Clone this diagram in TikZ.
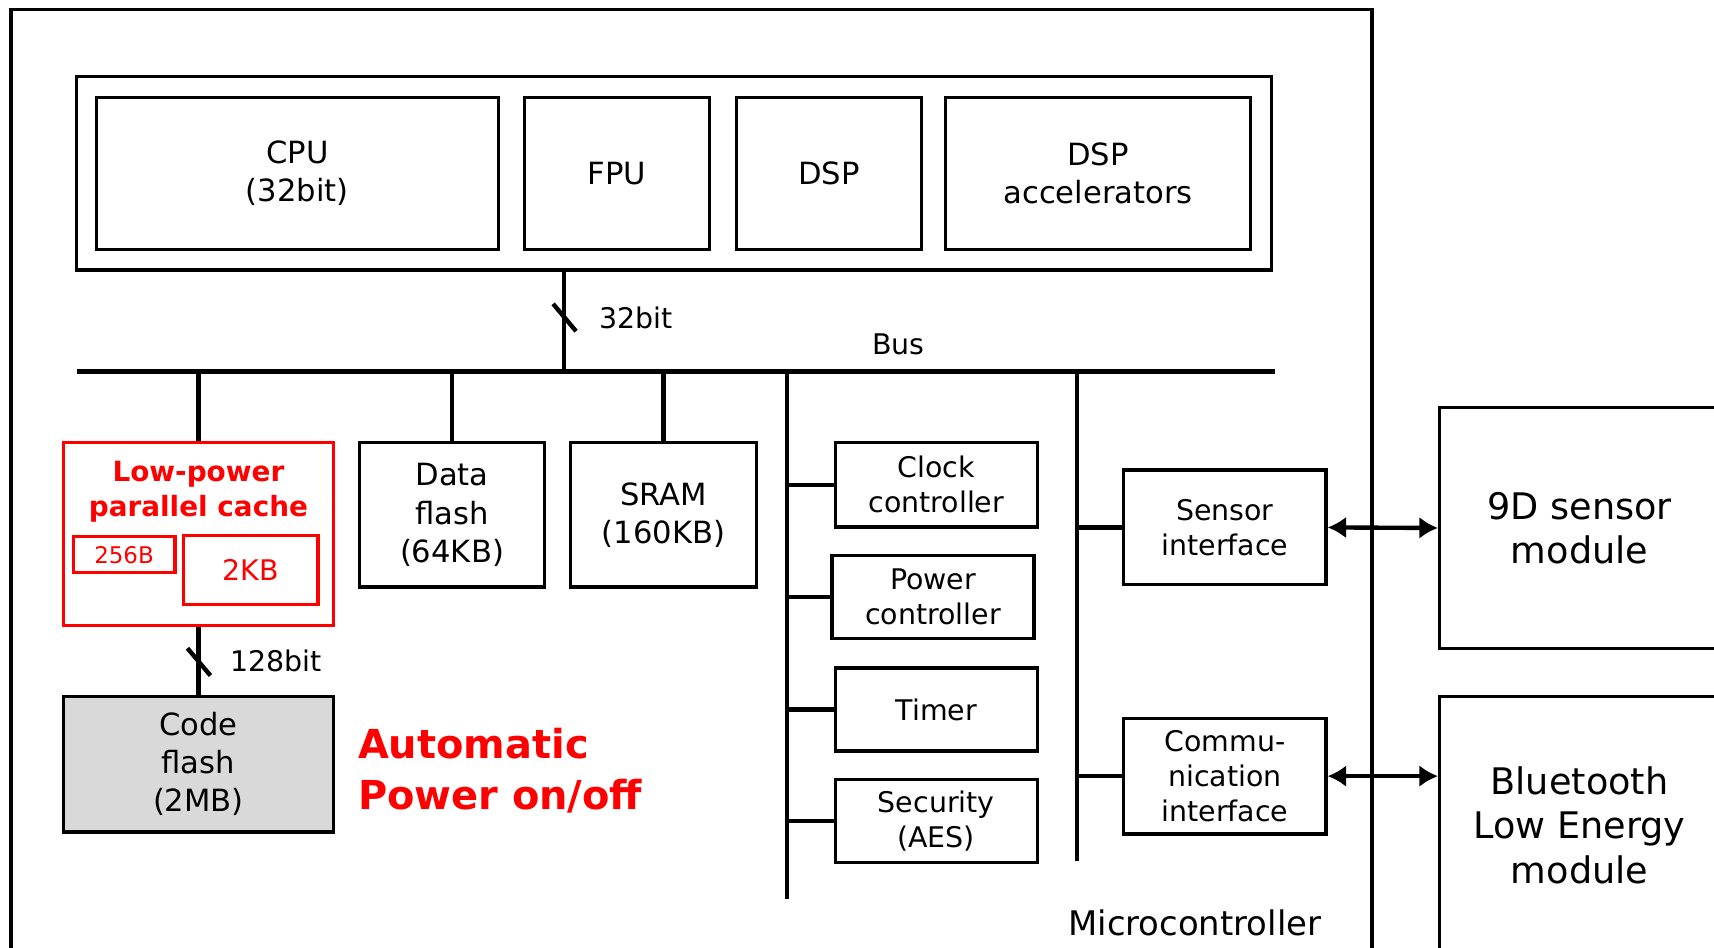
\documentclass[tikz,border=0pt]{standalone}
\usepackage{fontspec}
\setmainfont{DejaVu Sans}
\usetikzlibrary{arrows.meta,calc}
\definecolor{hred}{RGB}{255,0,0}
\definecolor{cfgray}{RGB}{217,217,217}
\tikzset{
  blk/.style={draw=black, line width=3pt, inner sep=0pt, align=center},
  cachebox/.style={draw=hred, line width=3pt, inner sep=0pt, align=center, text=hred},
  wire/.style={line width=4pt},
  buswire/.style={line width=4.5pt},
  frame/.style={line width=3pt},
  dbl/.style={line width=4pt, {Latex[length=17pt,width=20pt]}-{Latex[length=17pt,width=20pt]}},
  fL/.style={font=\fontsize{28}{35}\selectfont},
  fM/.style={font=\fontsize{26}{32}\selectfont},
  fXL/.style={font=\fontsize{33.5}{40.5}\selectfont},
}
\begin{document}
\begin{tikzpicture}[x=1pt,y=-1pt]
\useasboundingbox (0,0) rectangle (1568,867);
\clip (0,0) rectangle (1568,867);
% outer microcontroller frame
\draw[frame] (10,900) -- (10,9) -- (1255,9) -- (1255,900);
\node[fM, font=\fontsize{31}{36}\selectfont] (mcu) at (1093,844) {Microcontroller};

% top processor block
\node[blk, minimum width=1093pt, minimum height=177pt] (top) at (616.5,158.5) {};
\node[blk, fL, minimum width=368pt, minimum height=139pt] (cpu) at (272,158.5) {CPU\\(32bit)};
\node[blk, fL, minimum width=169pt, minimum height=139pt] (fpu) at (564.5,158.5) {FPU};
\node[blk, fL, minimum width=169pt, minimum height=139pt] (dsp) at (758.5,158.5) {DSP};
\node[blk, fL, minimum width=279pt, minimum height=139pt] (dspacc) at (1004.5,158.5) {DSP\\accelerators};

% bus
\coordinate (busL) at (70,340);
\coordinate (busR) at (1166,340);
\coordinate (b1) at (516,340);
\draw[buswire] (busL) -- (busR);
\draw[wire] (top.south -| b1) -- (b1);
\coordinate (s1) at (516,290);
\draw[line width=4pt] ($(s1)+(-10,-12)$) -- ($(s1)+(11,13)$);
\node[fM, anchor=west] (l32) at (545,291) {32bit};
\node[fM] (buslbl) at (822,315) {Bus};

% cache
\node[cachebox, minimum width=247pt, minimum height=167pt] (cache) at (181.5,488.5) {};
\node[text=hred, align=center, font=\bfseries\fontsize{25.5}{32}\selectfont] (ctitle) at (181.5,450) {Low-power\\parallel cache};
\node[cachebox, minimum width=93pt, minimum height=33pt, font=\fontsize{21}{24}\selectfont] (c256) at (113.5,507.5) {256B};
\node[cachebox, minimum width=123pt, minimum height=63pt, font=\fontsize{26}{30}\selectfont] (c2k) at (229.5,521.5) {2KB};

% code flash
\node[blk, fL, fill=cfgray, minimum width=247pt, minimum height=124pt] (code) at (181.5,699) {Code\\flash\\(2MB)};
\draw[wire] (cache.south) -- (code.north);
\coordinate (s2) at (181.5,605);
\draw[line width=4pt] ($(s2)+(-10,-12)$) -- ($(s2)+(11,13)$);
\node[fM, anchor=west] (l128) at (207,605) {128bit};
\node[text=hred, align=left, anchor=west, font=\bfseries\fontsize{36.5}{46}\selectfont] (auto) at (324,705) {Automatic\\Power on/off};

% memories
\node[blk, fL, minimum width=169pt, minimum height=132pt] (dflash) at (413.5,471) {Data\\flash\\(64KB)};
\node[blk, fL, minimum width=170pt, minimum height=132pt] (sram) at (607,471) {SRAM\\(160KB)};

\draw[wire] (cache.north |- busL) -- (cache.north);
\draw[wire] (dflash.north |- busL) -- (dflash.north);
\draw[wire] (sram.north |- busL) -- (sram.north);

% peripheral column 1
\coordinate (v1t) at (720,340);
\coordinate (v1b) at (720,822);
\draw[wire] (v1t) -- (v1b);
\node[blk, fM, minimum width=185pt, minimum height=77pt] (clk) at (856.5,443.5) {Clock\\controller};
\node[blk, fM, minimum width=185pt, minimum height=76pt] (pwr) at (853.5,546) {Power\\controller};
\node[blk, fM, minimum width=185pt, minimum height=76pt] (tmr) at (856.5,649) {Timer};
\node[blk, fM, minimum width=185pt, minimum height=76pt] (sec) at (856.5,751) {Security\\(AES)};
\draw[wire] (clk.west -| v1t) -- (clk.west);
\draw[wire] (pwr.west -| v1t) -- (pwr.west);
\draw[wire] (tmr.west -| v1t) -- (tmr.west);
\draw[wire] (sec.west -| v1t) -- (sec.west);

% peripheral column 2
\coordinate (v2t) at (985,340);
\coordinate (v2b) at (985,788);
\draw[wire] (v2t) -- (v2b);
\node[blk, fM, minimum width=185pt, minimum height=105pt] (sens) at (1120.5,482.5) {Sensor\\interface};
\node[blk, fM, minimum width=185pt, minimum height=106pt] (comm) at (1120.5,710) {Commu-\\nication\\interface};
\draw[wire] (sens.west -| v2t) -- (sens.west);
\draw[wire] (comm.west -| v2t) -- (comm.west);

% external modules
\node[blk, fXL, minimum width=256pt, minimum height=220pt] (nined) at (1445,483) {9D sensor\\module};
\node[blk, fXL, minimum width=256pt, minimum height=236pt] (ble) at (1445,755) {Bluetooth\\Low Energy\\module};
\draw[dbl] (sens.east) -- (nined.west);
\draw[dbl] (comm.east) -- (comm.east -| ble.west);
\end{tikzpicture}
\end{document}
